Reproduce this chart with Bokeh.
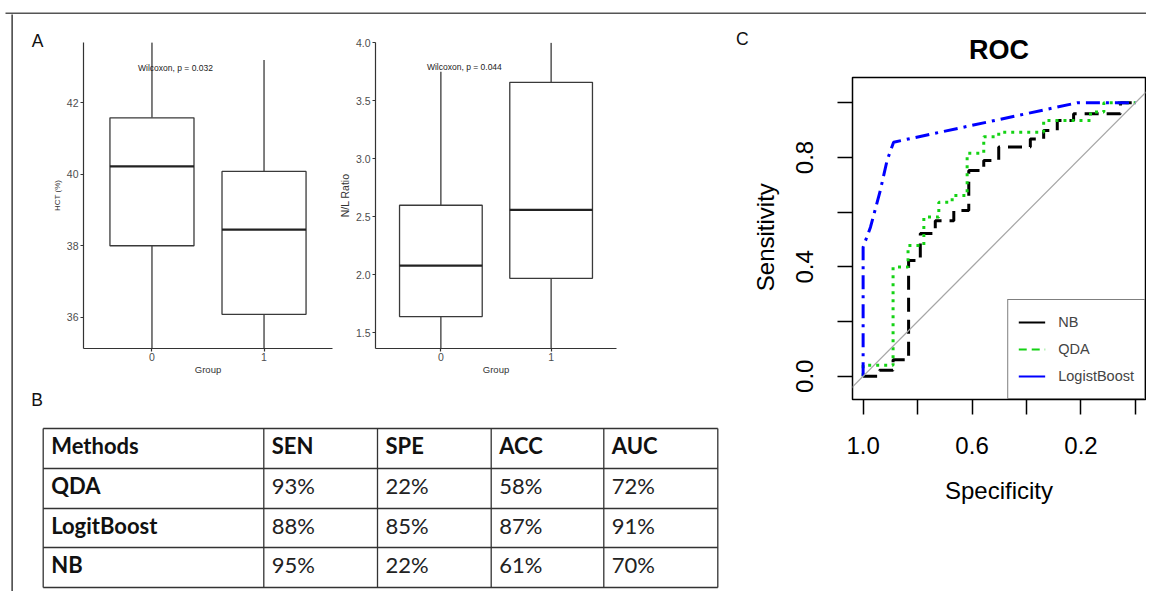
import math
from bokeh.plotting import figure
from bokeh.layouts import row, column
from bokeh.models import (Range1d, FactorRange, FixedTicker, PrintfTickFormatter, Label, Slope,
                          Legend, LegendItem, ColumnDataSource)
from bokeh.transform import dodge
from bokeh.embed import file_html
from bokeh.resources import INLINE
from bokeh.core.properties import value

# ---------------- data ----------------
groups = ["0", "1"]

hct_lower = [35.1, 35.1]
hct_q1 = [38.0, 36.08]
hct_median = [40.22, 38.45]
hct_q3 = [41.58, 40.08]
hct_upper = [43.7, 43.2]
hct_ticks = [36, 38, 40, 42]
hct_p = "Wilcoxon, p = 0.032"

nl_lower = [1.36, 1.36]
nl_q1 = [1.64, 1.97]
nl_median = [2.08, 2.56]
nl_q3 = [2.60, 3.66]
nl_upper = [3.75, 4.0]
nl_ticks = [1.5, 2.0, 2.5, 3.0, 3.5, 4.0]
nl_p = "Wilcoxon, p = 0.044"

table_header = ["Methods", "SEN", "SPE", "ACC", "AUC"]
methods = ["QDA", "LogitBoost", "NB"]
sen = [93, 88, 95]
spe = [22, 85, 22]
acc = [58, 87, 61]
auc = [72, 91, 70]

nb_spec = [1.0, 0.94, 0.94, 0.89, 0.89, 0.833, 0.833, 0.79, 0.79, 0.735, 0.735, 0.667, 0.667,
           0.612, 0.612, 0.557, 0.557, 0.502, 0.502, 0.386, 0.386, 0.337, 0.337, 0.287, 0.287,
           0.227, 0.227, 0.055, 0.055, 0.0]
nb_sens = [0.0, 0.0, 0.022, 0.022, 0.06, 0.06, 0.423, 0.423, 0.522, 0.522, 0.569, 0.569, 0.606,
           0.606, 0.752, 0.752, 0.789, 0.789, 0.838, 0.838, 0.868, 0.868, 0.899, 0.899, 0.935,
           0.935, 0.96, 0.96, 1.0, 1.0]

qda_spec = [1.0, 1.0, 0.89, 0.89, 0.835, 0.835, 0.777, 0.777, 0.722, 0.722, 0.673, 0.673, 0.618,
            0.618, 0.557, 0.557, 0.502, 0.502, 0.337, 0.337, 0.165, 0.165, 0.116, 0.116, 0.0]
qda_sens = [0.0, 0.04, 0.04, 0.399, 0.399, 0.478, 0.478, 0.582, 0.582, 0.636, 0.636, 0.661, 0.661,
            0.815, 0.815, 0.876, 0.876, 0.892, 0.892, 0.935, 0.935, 0.966, 0.966, 1.0, 1.0]

lb_spec = [1.0, 1.0, 0.973, 0.937, 0.912, 0.888, 0.214, 0.0]
lb_sens = [0.0, 0.472, 0.545, 0.679, 0.789, 0.856, 1.0, 1.0]

legend_labels = ["NB", "QDA", "LogistBoost"]
spec_ticks_labeled = [1.0, 0.6, 0.2]
spec_ticks_minor = [0.8, 0.4, 0.0]
sens_ticks_labeled = [0.0, 0.4, 0.8]
sens_ticks_minor = [0.2, 0.6, 1.0]

FONT = "Liberation Sans"
TFONT = "Lato"
FRAME_COLOR = "#555555"


def canvas(w, h, xr, yr):
    c = figure(width=w, height=h, min_border=0, x_axis_type=None, y_axis_type=None,
               x_range=Range1d(*xr), y_range=Range1d(*yr), toolbar_location=None,
               output_backend="svg", outline_line_color=None, frame_align=False)
    c.grid.visible = False
    return c


def box_fig(width, mbl, mbr, yrange, pad, ticks, fmt, ylabel, ylabel_size,
            lo, q1, med, q3, hi, ptext, ptext_y):
    p = figure(width=width, height=371, x_range=FactorRange(factors=groups, range_padding=pad),
               y_range=Range1d(*yrange), min_border_left=mbl, min_border_right=mbr,
               min_border_top=28, min_border_bottom=37, output_backend="svg",
               toolbar_location=None)
    p.grid.visible = False
    p.outline_line_color = None
    src = ColumnDataSource(dict(g=groups, lo=lo, q1=q1, med=med, q3=q3, hi=hi))
    lc = "#3a3a3a"
    p.segment(x0="g", y0="q3", x1="g", y1="hi", source=src, line_color=lc, line_width=1.3)
    p.segment(x0="g", y0="lo", x1="g", y1="q1", source=src, line_color=lc, line_width=1.3)
    p.vbar(x="g", bottom="q1", top="q3", width=0.75, source=src, fill_color="white",
           line_color=lc, line_width=1.3)
    p.segment(x0=dodge("g", -0.375, range=p.x_range), y0="med",
              x1=dodge("g", 0.375, range=p.x_range), y1="med", source=src,
              line_color="#222222", line_width=2.2)
    for ax in (p.xaxis[0], p.yaxis[0]):
        ax.axis_line_color = "#333333"
        ax.axis_line_width = 1.2
        ax.major_tick_line_color = "#333333"
        ax.major_tick_line_width = 1.2
        ax.major_tick_out = 3
        ax.major_tick_in = 0
        ax.minor_tick_line_color = None
        ax.major_label_text_font = FONT
        ax.major_label_text_font_size = "10.5px"
        ax.major_label_text_color = "#4d4d4d"
        ax.axis_label_text_font = FONT
        ax.axis_label_text_font_style = "normal"
        ax.axis_label_text_color = "#333333"
    xa = p.xaxis[0]
    xa.axis_label = "Group"
    xa.axis_label_text_font_size = "9.5px"
    xa.major_label_standoff = 1
    xa.axis_label_standoff = 0
    ya = p.yaxis[0]
    ya.ticker = FixedTicker(ticks=ticks)
    ya.formatter = PrintfTickFormatter(format=fmt)
    ya.axis_label = ylabel
    ya.axis_label_text_font_size = ylabel_size
    ya.major_label_standoff = 2
    ya.axis_label_standoff = 2
    # synthetic coordinate 0.5 = centre of the first group
    p.add_layout(Label(x=0.5, y=ptext_y, x_offset=23.5, text=ptext, text_align="center",
                       text_baseline="middle", text_font=FONT, text_font_size="8.5px",
                       text_color="#222222"))
    return p


# ---------------- frame lines ----------------
top_strip = canvas(1146, 14, (0, 1146), (14, 0))
top_strip.segment(x0=[5], y0=[13], x1=[1146], y1=[13], line_color=FRAME_COLOR, line_width=1.8)
left_strip = canvas(13, 577, (0, 13), (591, 14))
left_strip.segment(x0=[11.7], y0=[12], x1=[11.7], y1=[591], line_color=FRAME_COLOR, line_width=1.8)

# ---------------- panel A ----------------
strip_a = canvas(35, 371, (13, 48), (385, 14))
strip_a.text(x=[37], y=[40], text=["A"], text_font=value(FONT), text_font_size="17.5px",
             text_align="center", text_baseline="middle", text_color="#111111")

f1 = box_fig(287, 35, 3, (35.124, 43.69), 0.111, hct_ticks, "%d", "HCT (%)", "8px",
             hct_lower, hct_q1, hct_median, hct_q3, hct_upper, hct_p, 42.99)
f2 = box_fig(395, 36, 114, (1.365, 4.003), 0.093, nl_ticks, "%.1f", "N/L Ratio", "10.5px",
             nl_lower, nl_q1, nl_median, nl_q3, nl_upper, nl_p, 3.796)

# ---------------- table (B) ----------------
t = canvas(717, 206, (13, 730), (591, 385))
col_x = [42.7, 263.3, 377.0, 490.7, 603.3, 717.3]
row_y = [428.0, 468.0, 508.0, 547.0, 587.0]
t.segment(x0=col_x, y0=[row_y[0]] * len(col_x), x1=col_x, y1=[row_y[-1]] * len(col_x),
          line_color="#333333", line_width=1.3)
t.segment(x0=[col_x[0]] * len(row_y), y0=row_y, x1=[col_x[-1]] * len(row_y), y1=row_y,
          line_color="#333333", line_width=1.3)
t.text(x=[c + 8 for c in col_x[:5]], y=[row_y[0] + 17] * 5, text=table_header,
       text_font=value(TFONT), text_font_size="22px", text_font_style="bold",
       text_baseline="middle", text_align="left", text_color="#111111")
t.text(x=[col_x[0] + 8] * 3, y=[y + 17 for y in row_y[1:4]], text=methods,
       text_font=value(TFONT), text_font_size="22px", text_font_style="bold",
       text_baseline="middle", text_align="left", text_color="#111111")
for ci, vals in enumerate([sen, spe, acc, auc]):
    t.text(x=[col_x[ci + 1] + 8] * 3, y=[y + 17 for y in row_y[1:4]],
           text=[f"{v}%" for v in vals], text_font=value(TFONT), text_font_size="22px",
           text_baseline="middle", text_align="left", text_color="#222222")
t.text(x=[36.7], y=[399], text=["B"], text_font=value(FONT), text_font_size="17.5px",
       text_baseline="middle", text_align="center", text_color="#111111")

# ---------------- ROC (C) ----------------
# strip with the panel letter and the y-axis title (y measured upward from the bottom)
strip_c = canvas(56, 577, (730, 786), (0, 577))
strip_c.text(x=[741.7], y=[591 - 38.3], text=["C"], text_font=value(FONT),
             text_font_size="17.5px", text_align="center", text_baseline="middle",
             text_color="#111111")
strip_c.text(x=[765], y=[591 - 236.7], text=["Sensitivity"], angle=math.pi / 2,
             text_font=value(FONT), text_font_size="24px", text_align="center",
             text_baseline="middle", text_color="black")

r = figure(width=360, height=577, x_range=Range1d(1.039, -0.037), y_range=Range1d(-0.0852, 1.0925),
           min_border_left=66, min_border_right=1, min_border_top=63, min_border_bottom=192,
           output_backend="svg", toolbar_location=None)
r.grid.visible = False
r.outline_line_color = "black"
r.outline_line_width = 1.5
r.title.text = "ROC"
r.title.align = "center"
r.title.text_font = FONT
r.title.text_font_size = "27px"
r.title.text_font_style = "bold"
r.title.text_color = "black"
r.title.standoff = 26
r.add_layout(Slope(gradient=-1, y_intercept=1, line_color="#a6a6a6", line_width=1.3))
r.line(nb_spec, nb_sens, line_color="black", line_width=3, line_dash="14 8")
r.line(qda_spec, qda_sens, line_color="#14d214", line_width=3, line_dash="3 5")
r.line(lb_spec, lb_sens, line_color="#0000ff", line_width=3, line_dash="14 6 3 6")

for ax, major, minor in ((r.xaxis[0], spec_ticks_labeled, spec_ticks_minor),
                         (r.yaxis[0], sens_ticks_labeled, sens_ticks_minor)):
    ax.ticker = FixedTicker(ticks=major, minor_ticks=minor)
    ax.formatter = PrintfTickFormatter(format="%.1f")
    ax.axis_line_color = None
    ax.major_tick_out = 15
    ax.major_tick_in = 0
    ax.minor_tick_out = 15
    ax.minor_tick_in = 0
    ax.major_tick_line_color = "black"
    ax.minor_tick_line_color = "black"
    ax.major_tick_line_width = 1.5
    ax.minor_tick_line_width = 1.5
    ax.major_label_text_font = FONT
    ax.major_label_text_font_size = "24px"
    ax.major_label_text_color = "black"
    ax.axis_label_text_font = FONT
    ax.axis_label_text_font_size = "24px"
    ax.axis_label_text_font_style = "normal"
    ax.axis_label_text_color = "black"
r.xaxis[0].axis_label = "Specificity"
r.xaxis[0].major_label_standoff = 22
r.xaxis[0].axis_label_standoff = 20
r.yaxis[0].major_label_orientation = "vertical"
r.yaxis[0].major_label_standoff = 24

nan = float("nan")
leg_r = [r.line(x=[nan, nan], y=[nan, nan], line_color="black", line_width=2),
         r.line(x=[nan, nan], y=[nan, nan], line_color="#14d214", line_width=2, line_dash="8 5"),
         r.line(x=[nan, nan], y=[nan, nan], line_color="#0000ff", line_width=2)]
legend = Legend(items=[LegendItem(label=lab, renderers=[rr], index=0)
                       for lab, rr in zip(legend_labels, leg_r)],
                location="bottom_right", margin=0, padding=10, spacing=3, label_height=24,
                glyph_height=24, glyph_width=27, label_standoff=13,
                label_text_font=FONT, label_text_font_size="14.5px",
                border_line_color="black", border_line_width=1.5, background_fill_alpha=1.0)
r.add_layout(legend)

# ---------------- layout ----------------
panel_a = row(strip_a, f1, f2)
left_col = column(panel_a, t)
inner = row(left_col, strip_c, r)
root = column(top_strip, row(left_strip, inner))

open("out.html", "w").write(file_html(root, INLINE))
